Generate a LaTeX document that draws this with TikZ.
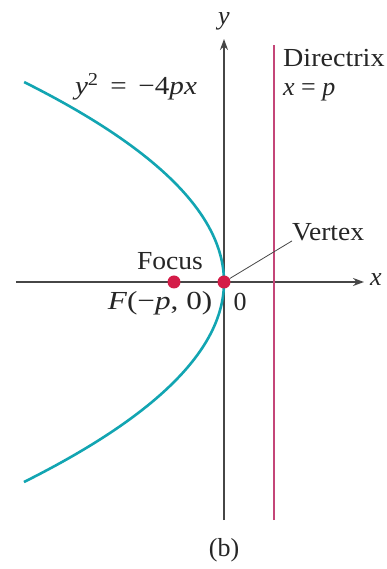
\documentclass[tikz,border=0pt]{standalone}
\usepackage{fontspec}
\setmainfont{Liberation Serif}
\usetikzlibrary{arrows.meta}
\definecolor{curve}{RGB}{18,165,178}
\definecolor{dotc}{RGB}{212,28,72}
\definecolor{dirc}{RGB}{196,70,120}
\definecolor{axisc}{RGB}{70,70,70}
\tikzset{
  axis/.style={draw=axisc,line width=1.6pt},
  lbl/.style={font=\fontsize{26}{29}\selectfont,text=black!85,inner sep=0pt},
  pt/.style={circle,fill=dotc,minimum size=13pt,inner sep=0pt}
}
\begin{document}
\begin{tikzpicture}[x=1pt,y=1pt]
\useasboundingbox[fill=white] (-224,-287) rectangle (163,282);
% axes
\coordinate (xl) at (-208,0);
\coordinate (xr) at (140,0);
\coordinate (yb) at (0,-238);
\coordinate (yt) at (0,243);
\draw[axis,-{Stealth[length=11pt,width=8pt]}] (xl) -- (xr);
\draw[axis,-{Stealth[length=11pt,width=8pt]}] (yb) -- (yt);
% directrix
\coordinate (db) at (50,-238);
\coordinate (dt) at (50,237);
\draw[dirc,line width=1.3pt] (db) -- (dt);
% parabola
\draw[curve,line width=2.6pt,domain=-2:2,samples=101,variable=\t] plot ({-50*\t*\t},{100*\t});
% points
\node[pt] (F) at (-50,0) {};
\node[pt] (V) at (0,0) {};
% labels
\node[lbl] (ylab) at (0,261) {\textit{y}};
\node[lbl] (xlab) at (152,2) {\textit{x}};
\node[lbl] (eq) at (-88,195) {\scalebox{1.12}[1]{\textit{y}\textsuperscript{2}\hspace{0.4em}=\hspace{0.4em}−4\textit{px}}};
\node[lbl,anchor=west] (dir) at (59,224) {\scalebox{1.08}[1]{Directrix}};
\node[lbl,anchor=west] (dx) at (59,190) {\textit{x} = \textit{p}};
\node[lbl,anchor=west] (vert) at (68,50) {\scalebox{1.06}[1]{Vertex}};
\draw[axisc,line width=0.8pt] (V) -- (vert.south west);
\node[lbl] (foc) at (-54,21) {\scalebox{1.06}[1]{Focus}};
\node[lbl] (Flab) at (-64,-21) {\scalebox{1.2}[1]{\textit{F}(−\textit{p}, 0)}};
\node[lbl] (zero) at (16,-20) {0};
\node[lbl] (b) at (0,-268) {(b)};
\end{tikzpicture}
\end{document}
